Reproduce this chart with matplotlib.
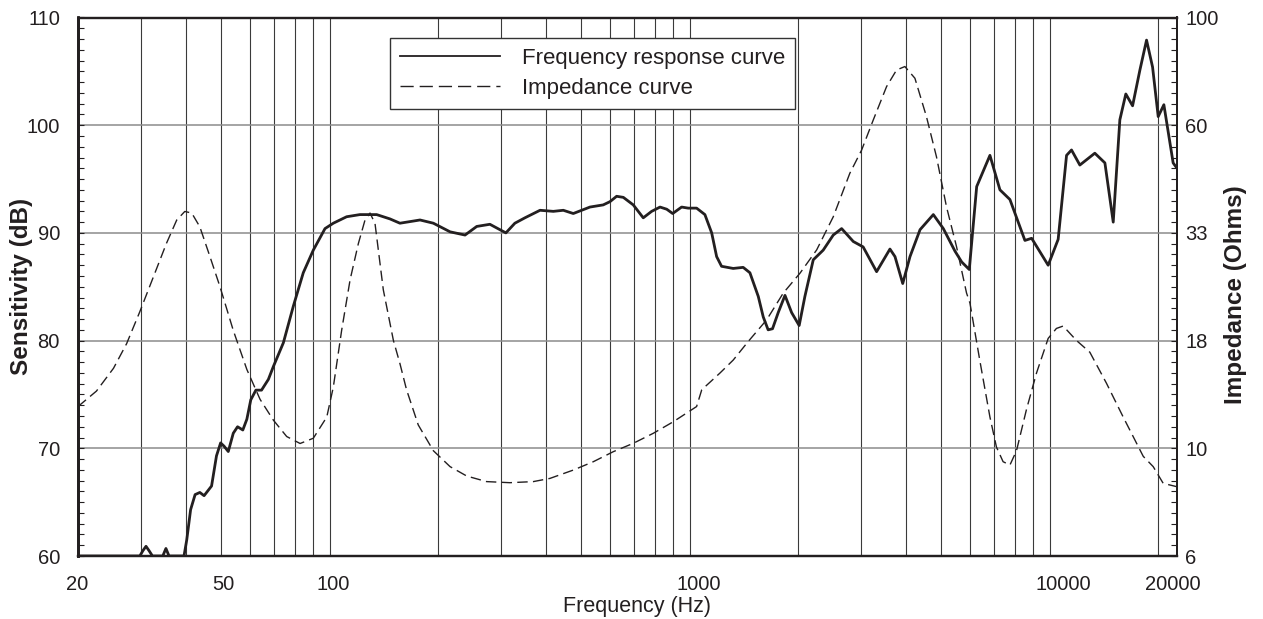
import numpy as np
import matplotlib
matplotlib.use("Agg")
import matplotlib.pyplot as plt
from matplotlib.lines import Line2D
from matplotlib.ticker import FixedLocator, FixedFormatter, NullFormatter
from matplotlib.transforms import ScaledTranslation

plt.rcParams['font.family'] = ['Liberation Sans', 'DejaVu Sans']

# --- data ---
resp_freq = [20, 29.7, 30.3, 30.9, 31.5, 32.2, 34.4, 35.1, 35.8, 39.4,
             40.1, 41.1, 42.3, 43.6, 44.8, 47.0, 48.5, 49.8, 50.9, 52.3,
             54.0, 55.5, 57.4, 58.9, 60.4, 62.4, 64.7, 67.6, 69.8, 74.4,
             79.3, 84.5, 90.1, 97.1, 102.4, 111.5, 121.4, 135.1, 147.1, 156.8,
             170.9, 178.3, 194.2, 216.1, 237.8, 256.3, 278.8, 297.2, 308.8, 327.1,
             348.8, 384.2, 418.3, 445.9, 475.3, 501.4, 528.8, 575.5, 601.0, 627.1,
             654.6, 697.6, 743.6, 784.5, 827.7, 864.0, 897.6, 950.5, 991.3, 1046,
             1103, 1152, 1189, 1227, 1322, 1409, 1471, 1552, 1602, 1653,
             1700, 1763, 1841, 1921, 2016, 2091, 2206, 2351, 2507, 2645,
             2850, 3035, 3308, 3603, 3721, 3910, 4096, 4368, 4755, 5069,
             5463, 5702, 5985, 6275, 6830, 7281, 7762, 8543, 8918, 9913,
             10567, 11150, 11510, 12140, 13360, 14250, 15030, 15680, 16290, 17010,
             17820, 18600, 19330, 20040, 20780, 22050, 22600]
resp_db = [60, 60, 60.5, 60.9, 60.5, 60, 60, 60.7, 60, 60,
           61.5, 64.3, 65.7, 65.9, 65.6, 66.5, 69.3, 70.5, 70.2, 69.7,
           71.4, 72.0, 71.7, 72.7, 74.5, 75.4, 75.4, 76.4, 77.6, 79.8,
           83.2, 86.3, 88.4, 90.4, 90.9, 91.5, 91.7, 91.7, 91.3, 90.9,
           91.1, 91.2, 90.9, 90.1, 89.8, 90.6, 90.8, 90.3, 90.0, 90.9,
           91.4, 92.1, 92.0, 92.1, 91.8, 92.1, 92.4, 92.6, 92.9, 93.4,
           93.3, 92.6, 91.4, 92.0, 92.4, 92.2, 91.8, 92.4, 92.3, 92.3,
           91.7, 90.0, 87.8, 86.9, 86.7, 86.8, 86.3, 84.1, 82.2, 81.0,
           81.1, 82.6, 84.2, 82.6, 81.4, 84.1, 87.5, 88.4, 89.8, 90.4,
           89.2, 88.7, 86.4, 88.5, 87.8, 85.3, 87.8, 90.3, 91.7, 90.4,
           88.3, 87.3, 86.6, 94.3, 97.2, 94.0, 93.1, 89.3, 89.5, 87.0,
           89.4, 97.2, 97.7, 96.3, 97.4, 96.5, 91.0, 100.5, 102.9, 101.8,
           105.1, 107.9, 105.4, 100.8, 101.9, 96.5, 96.0]

imp_freq = [20, 22.5, 25.1, 27.3, 29.7, 32.4, 35.2, 37.6, 39.6, 41.4,
            43.6, 46.5, 49.6, 54.0, 58.9, 64.1, 69.8, 76.0, 82.8, 90.1,
            98.2, 102.4, 108.0, 114.0, 120.2, 125.4, 129.5, 133.7, 141.0, 150.4,
            156.8, 163.6, 176.3, 194.2, 216.1, 240.5, 273.0, 316.8, 368.0, 409.5,
            475.3, 540.3, 614.2, 697.6, 792.7, 901.1, 1046, 1081, 1214, 1322,
            1455, 1637, 1821, 2027, 2255, 2507, 2787, 3005, 3237, 3526,
            3758, 3964, 4227, 4550, 4852, 5173, 5516, 5881, 6010, 6399,
            6830, 7121, 7430, 7762, 8095, 8628, 9199, 9913, 10450, 10910,
            11880, 12940, 14390, 16020, 18210, 19410, 20690, 22550]
imp_ohm = [13.1, 14.2, 16.0, 18.2, 21.5, 25.8, 30.7, 34.7, 36.3, 36.0,
           33.5, 28.7, 24.5, 19.5, 15.9, 13.6, 12.2, 11.2, 10.8, 11.1,
           12.4, 14.5, 19.5, 25.4, 30.7, 34.7, 36.0, 34.1, 24.1, 18.5,
           16.4, 14.3, 11.9, 10.4, 9.57, 9.11, 8.85, 8.80, 8.85, 9.00,
           9.40, 9.82, 10.35, 10.81, 11.39, 12.1, 13.1, 14.3, 15.6, 16.7,
           18.4, 20.6, 23.7, 26.3, 29.7, 35.3, 44.3, 50.0, 58.5, 69.7,
           76.0, 77.4, 72.8, 59.6, 48.3, 37.2, 30.2, 23.7, 22.5, 16.7,
           12.4, 10.6, 9.82, 9.65, 10.4, 12.9, 15.6, 18.7, 19.7, 19.95,
           18.5, 17.4, 14.8, 12.4, 10.1, 9.57, 8.77, 8.62]

x_ticks = [20, 50, 100, 1000, 10000, 20000]
x_tick_labels = ['20', '50', '100', '1000', '10000', '20000']
db_ticks = [60, 70, 80, 90, 100, 110]
imp_tick_labels = ['6', '10', '18', '33', '60', '100']

# --- look ---
INK = '#231f20'
W, H = 1263, 619
x_label_nudge_px = [-1, 2, 4, 9, 14, 15]

fig = plt.figure(figsize=(W / 100, H / 100), dpi=100)
ax = fig.add_axes([78 / W, 1 - 556 / H, 1099 / W, 538.5 / H])
ax.set_xscale('log')
ax.set_xlim(20, 22600)
ax.set_ylim(60, 110)
ax.set_axisbelow(True)

ax.plot(resp_freq, resp_db, color=INK, lw=2.0, solid_joinstyle='round', zorder=3)

# gridlines: every 1-2-3..9 position on x, every 10 dB on y
grid_x = [k * 10 ** d for d in range(1, 5) for k in range(1, 10)]
grid_x = [g for g in grid_x if 20 < g < 20000 and g not in x_ticks]
ax.xaxis.set_major_locator(FixedLocator(x_ticks))
ax.xaxis.set_major_formatter(FixedFormatter(x_tick_labels))
ax.xaxis.set_minor_locator(FixedLocator(grid_x))
ax.xaxis.set_minor_formatter(NullFormatter())
ax.grid(True, which='both', axis='x', color='#3a3a3a', lw=0.8)
ax.grid(True, which='major', axis='y', color='#8c8c8c', lw=1.1)

ax.yaxis.set_major_locator(FixedLocator(db_ticks))
ax.yaxis.set_minor_locator(FixedLocator(np.arange(60, 111, 1)))
ax.tick_params(axis='x', which='both', length=0, labelsize=14.5, pad=13.5,
               labelcolor=INK)
ax.tick_params(axis='y', which='both', direction='in', length=4.5, width=0.8,
               color=INK, labelsize=14.5, pad=13, labelcolor=INK)

ax2 = ax.twinx()
ax2.set_yscale('log')
ax2.set_ylim(6, 100)
ax2.plot(imp_freq, imp_ohm, color=INK, lw=1.0, ls=(0, (7.5, 3.8)))
imp_pos = [6 * (100 / 6) ** (k / 5) for k in range(6)]
ax2.yaxis.set_major_locator(FixedLocator(imp_pos))
ax2.yaxis.set_major_formatter(FixedFormatter(imp_tick_labels))
ax2.yaxis.set_minor_locator(FixedLocator([6 * (100 / 6) ** (k / 50) for k in range(51)]))
ax2.yaxis.set_minor_formatter(NullFormatter())
ax2.tick_params(axis='y', which='both', direction='in', length=4.5, width=0.8,
                color=INK, labelsize=14.5, pad=6, labelcolor=INK)

for a in (ax, ax2):
    for side, w in (('left', 2.0), ('bottom', 1.6), ('right', 1.4), ('top', 1.0)):
        a.spines[side].set_linewidth(w)
        a.spines[side].set_color(INK)

ax.set_ylabel('Sensitivity (dB)', fontsize=17.5, fontweight='bold', color=INK, va='center')
ax.yaxis.set_label_coords(-0.051, 0.5)
ax2.set_ylabel('Impedance (Ohms)', fontsize=17.5, fontweight='bold', color=INK,
               rotation=90, va='center')
ax2.yaxis.set_label_coords(1.0528, 0.485)
ax.set_xlabel('Frequency (Hz)', fontsize=15.5, color=INK, va='center')
ax.xaxis.set_label_coords(0.5086, -0.0947)

for lbl, dx in zip(ax.get_xticklabels(), x_label_nudge_px):
    lbl.set_transform(lbl.get_transform() + ScaledTranslation(dx / 100, 0, fig.dpi_scale_trans))

# legend keys drawn a touch longer-dashed, as in the reference
handles = [Line2D([], [], color=INK, lw=1.3),
           Line2D([], [], color=INK, lw=1.0, ls=(0, (9.5, 4.3)))]
leg = ax2.legend(handles, ['Frequency response curve', 'Impedance curve'],
                 loc='upper left', bbox_to_anchor=(390 / W, 1 - 38 / H),
                 bbox_transform=fig.transFigure, borderaxespad=0, fancybox=False,
                 framealpha=1, edgecolor='#333333', fontsize=16, borderpad=0.45,
                 labelspacing=0.4, handlelength=4.5, handletextpad=1.0)
leg.get_frame().set_linewidth(1.0)
for t in leg.get_texts():
    t.set_color(INK)

fig.savefig('out.png', dpi=100)
